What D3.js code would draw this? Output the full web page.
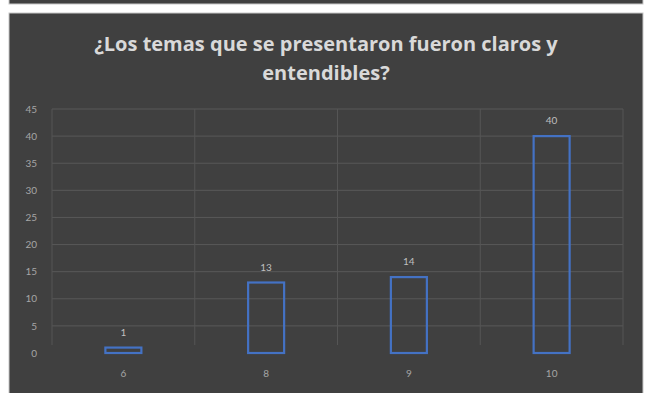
<!DOCTYPE html>
<html><head><meta charset="utf-8">
<script src="https://cdn.jsdelivr.net/npm/d3@7"></script>
<style>html,body{margin:0;padding:0;background:#fff;}svg{display:block;}</style>
</head><body>
<svg id="c" width="650" height="393"></svg>
<script>
const categories = ["6", "8", "9", "10"];
const values = [1, 13, 14, 40];
const yTicks = [0, 5, 10, 15, 20, 25, 30, 35, 40, 45];
const titleLines = ["¿Los temas que se presentaron fueron claros y", "entendibles?"];

const svg = d3.select("#c");

// top strip (previous chart edge)
svg.append("rect").attr("x", 9).attr("y", -2).attr("width", 634).attr("height", 6)
  .attr("fill", "#404040").attr("stroke", "#c8c8c8").attr("stroke-width", 1);
// panel
svg.append("rect").attr("x", 9).attr("y", 13).attr("width", 634).attr("height", 390)
  .attr("fill", "#404040").attr("stroke", "#c8c8c8").attr("stroke-width", 1);

const x = d3.scaleBand().domain(categories).range([52, 623]).paddingInner(0).paddingOuter(0);
const y = d3.scaleLinear().domain([0, 45]).range([353, 109]);

const g = svg.append("g");
g.selectAll("line.h").data(yTicks.filter(d => d > 0)).enter().append("line")
  .attr("x1", 52).attr("x2", 623).attr("y1", d => y(d)).attr("y2", d => y(d))
  .attr("stroke", "#585858").attr("stroke-width", 1);
const edges = categories.map(c => x(c)).concat([x.range()[1]]);
g.selectAll("line.v").data(edges).enter().append("line")
  .attr("x1", d => d).attr("x2", d => d).attr("y1", y(45)).attr("y2", y(0) - 8)
  .attr("stroke", "#555555").attr("stroke-width", 1);

const yAxis = d3.axisLeft(y).tickValues(yTicks).tickSize(0).tickPadding(0);
const ya = svg.append("g").attr("transform", "translate(37,0)").call(yAxis);
ya.select(".domain").remove();
ya.selectAll("text").attr("fill", "#a6a6a6").attr("font-family", "Lato, 'Open Sans', sans-serif").attr("font-size", 10);

const xAxis = d3.axisBottom(x).tickSize(0).tickPadding(0);
const xa = svg.append("g").attr("transform", "translate(0,370)").call(xAxis);
xa.select(".domain").remove();
xa.selectAll("text").attr("fill", "#a6a6a6").attr("font-family", "Lato, 'Open Sans', sans-serif").attr("font-size", 10);

const bw = 36;
svg.selectAll("rect.bar").data(values).enter().append("rect")
  .attr("x", (d, i) => x(categories[i]) + x.bandwidth() / 2 - bw / 2)
  .attr("y", d => y(d))
  .attr("width", bw)
  .attr("height", d => y(0) - y(d))
  .attr("fill", "none").attr("stroke", "#4472c4").attr("stroke-width", 2.2);

svg.selectAll("text.val").data(values).enter().append("text")
  .attr("x", (d, i) => x(categories[i]) + x.bandwidth() / 2)
  .attr("y", d => y(d) - 12)
  .attr("text-anchor", "middle")
  .attr("fill", "#bfbfbf").attr("font-family", "Lato, 'Open Sans', sans-serif").attr("font-size", 10)
  .text(d => d);

svg.selectAll("text.title").data(titleLines).enter().append("text")
  .attr("x", 326).attr("y", (d, i) => 51 + i * 29)
  .attr("text-anchor", "middle")
  .attr("fill", "#d9d9d9").attr("font-family", "'Open Sans', sans-serif").attr("font-weight", 700).attr("font-size", 20)
  .text(d => d);
</script>
</body></html>
